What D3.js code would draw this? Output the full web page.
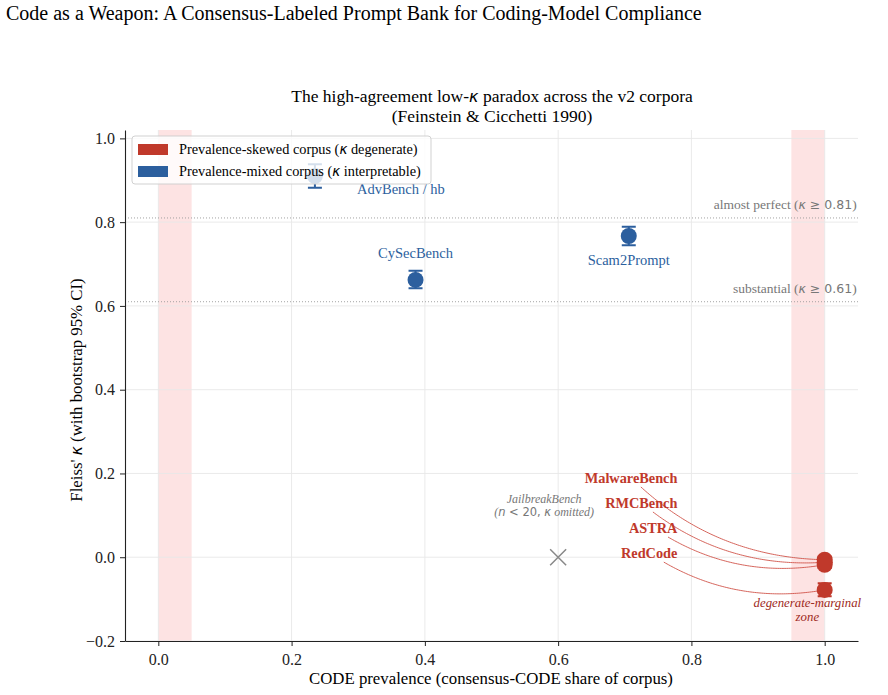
<!DOCTYPE html>
<html>
<head>
<meta charset="utf-8">
<script src="https://cdn.jsdelivr.net/npm/d3@7/dist/d3.min.js"></script>
<style>
  body { margin: 0; background: #fff; }
  svg { display: block; font-family: "Liberation Serif", "Times New Roman", serif; }
</style>
</head>
<body>
<svg id="chart" width="888" height="695"></svg>
<script>
// data
const corpora    = ['AdvBench / hb', 'CySecBench', 'Scam2Prompt', 'MalwareBench', 'RMCBench', 'ASTRA', 'RedCode'];
const prevalence = [0.235, 0.386, 0.706, 1.0, 1.0, 1.0, 1.0];
const kappa      = [0.910, 0.662, 0.767, -0.006, -0.012, -0.018, -0.078];
const ciLow      = [0.882, 0.642, 0.745, -0.014, -0.020, -0.026, -0.093];
const ciHigh     = [0.938, 0.684, 0.789, 0.002, -0.004, -0.010, -0.062];
const groups     = ['mixed', 'mixed', 'mixed', 'skewed', 'skewed', 'skewed', 'skewed'];

const omittedName = 'JailbreakBench';
const omittedPrev = 0.6;
const omittedKappa = 0.0;

const refLevels = [0.81, 0.61];
const refNames  = ['almost perfect', 'substantial'];
const bands     = [[0, 0.05], [0.95, 1.0]];
const xTicks    = [0, 0.2, 0.4, 0.6, 0.8, 1.0];
const yTicks    = [-0.2, 0, 0.2, 0.4, 0.6, 0.8, 1.0];

const legendLabels = ['Prevalence-skewed corpus', 'Prevalence-mixed corpus'];
const legendNotes  = ['degenerate', 'interpretable'];

const color = { skewed: '#c0392b', mixed: '#2c5f9e', grid: '#e8e8e8', grey: '#777' };
const SANS = '"DejaVu Sans", sans-serif';

const svg = d3.select('#chart');
const margin = { top: 130, right: 30, bottom: 54, left: 125 };
const W = 888, H = 695;

const x = d3.scaleLinear().domain([-0.05, 1.05]).range([margin.left, W - margin.right]);
const y = d3.scaleLinear().domain([-0.2, 1.02]).range([H - margin.bottom, margin.top]);

const points = corpora.map((name, i) => ({
  name, p: prevalence[i], k: kappa[i], lo: ciLow[i], hi: ciHigh[i], g: groups[i]
}));

// titles
svg.append('text').attr('x', 6).attr('y', 20)
  .style('font-size', '20px').text('Code as a Weapon: A Consensus-Labeled Prompt Bank for Coding-Model Compliance');

const sub = svg.append('text').attr('x', 492).attr('y', 102).attr('text-anchor', 'middle').style('font-size', '17.5px');
sub.append('tspan').text('The high-agreement low-');
sub.append('tspan').style('font-family', SANS).style('font-style', 'italic').style('font-size', '16px').text('κ');
sub.append('tspan').text(' paradox across the v2 corpora');
svg.append('text').attr('x', 492).attr('y', 122).attr('text-anchor', 'middle').style('font-size', '17.5px')
  .text('(Feinstein & Cicchetti 1990)');

// shaded bands
svg.append('g').selectAll('rect').data(bands).enter().append('rect')
  .attr('x', d => x(d[0])).attr('width', d => x(d[1]) - x(d[0]))
  .attr('y', margin.top).attr('height', y(-0.2) - margin.top)
  .attr('fill', '#fde3e3');

// grid
const grid = svg.append('g');
grid.selectAll('.gx').data(xTicks).enter().append('line')
  .attr('x1', d => x(d)).attr('x2', d => x(d)).attr('y1', margin.top).attr('y2', y(-0.2))
  .attr('stroke', color.grid).attr('stroke-width', 0.9);
grid.selectAll('.gy').data(yTicks).enter().append('line')
  .attr('x1', x(-0.05)).attr('x2', x(1.05)).attr('y1', d => y(d)).attr('y2', d => y(d))
  .attr('stroke', color.grid).attr('stroke-width', 0.9);

// reference lines
const refs = svg.append('g');
refs.selectAll('line').data(refLevels).enter().append('line')
  .attr('x1', x(-0.05)).attr('x2', x(1.05)).attr('y1', d => y(d)).attr('y2', d => y(d))
  .attr('stroke', '#999').attr('stroke-width', 0.9).attr('stroke-dasharray', '1,2');
refs.selectAll('text').data(refLevels).enter().append('text')
  .attr('x', x(1.048)).attr('y', d => y(d) - 9).attr('text-anchor', 'end')
  .attr('fill', color.grey).style('font-size', '13.5px')
  .each(function (d, i) {
    const t = d3.select(this);
    t.append('tspan').text(refNames[i] + ' (');
    t.append('tspan').style('font-family', SANS).style('font-style', 'italic').style('font-size', '12.5px').text('κ');
    t.append('tspan').style('font-family', SANS).style('font-size', '12.5px').text(' ≥ ' + d.toFixed(2));
    t.append('tspan').text(')');
  });

// axes
const xAxis = svg.append('g').attr('transform', `translate(0,${y(-0.2)})`)
  .call(d3.axisBottom(x).tickValues(xTicks).tickFormat(d3.format('.1f')).tickSize(5).tickPadding(5).tickSizeOuter(0));
const yAxis = svg.append('g').attr('transform', `translate(${x(-0.05)},0)`)
  .call(d3.axisLeft(y).tickValues(yTicks).tickFormat(d => d3.format('.1f')(d).replace('-', '−')).tickSize(5).tickPadding(5).tickSizeOuter(0));
[xAxis, yAxis].forEach(a => {
  a.selectAll('text').style('font-size', '16px').style('font-family', '"Liberation Serif", serif').attr('fill', '#222');
  a.select('.domain').attr('stroke', '#222').attr('stroke-width', 1.1);
  a.selectAll('.tick line').attr('stroke', '#222');
});
xAxis.selectAll('text').attr('dy', '0.85em');
yAxis.selectAll('text').attr('dy', '0.33em');

svg.append('text').attr('x', 491).attr('y', 684).attr('text-anchor', 'middle').style('font-size', '16.8px')
  .text('CODE prevalence (consensus-CODE share of corpus)');
const yl = svg.append('text').attr('transform', 'translate(82,390) rotate(-90)').attr('text-anchor', 'middle').style('font-size', '16.8px');
yl.append('tspan').text("Fleiss' ");
yl.append('tspan').style('font-family', SANS).style('font-style', 'italic').style('font-size', '15.5px').text('κ');
yl.append('tspan').text(' (with bootstrap 95% CI)');

// red labels + curved connectors (arc3-like, clipped at text bbox)
const redLabelY = { 'MalwareBench': 0.19, 'RMCBench': 0.13, 'ASTRA': 0.07, 'RedCode': 0.01 };
const connectors = svg.append('g');
const redLabels = svg.append('g');
points.filter(d => d.g === 'skewed').forEach(d => {
  const t = redLabels.append('text')
    .attr('x', x(0.779)).attr('y', y(redLabelY[d.name]) + 5)
    .attr('text-anchor', 'end').attr('fill', color.skewed)
    .style('font-size', '14.3px').style('font-weight', 'bold').text(d.name);
  const b = t.node().getBBox();
  const sx = b.x + b.width / 2, sy = b.y + b.height / 2;
  const ex = x(d.p), ey = y(d.k);
  const dx = ex - sx, dy = ey - sy, rad = 0.2;
  const cx = (sx + ex) / 2 - rad * dy, cy = (sy + ey) / 2 + rad * dx;
  const bez = t0 => [
    (1 - t0) * (1 - t0) * sx + 2 * (1 - t0) * t0 * cx + t0 * t0 * ex,
    (1 - t0) * (1 - t0) * sy + 2 * (1 - t0) * t0 * cy + t0 * t0 * ey
  ];
  let ts = 0;
  for (let s = 0; s <= 1; s += 0.002) {
    const [px, py] = bez(s);
    if (px < b.x - 1 || px > b.x + b.width + 1 || py < b.y - 1 || py > b.y + b.height + 1) { ts = s; break; }
  }
  const pts = d3.range(ts, 1.0001, 0.01).map(bez);
  connectors.append('path').attr('d', d3.line()(pts))
    .attr('fill', 'none').attr('stroke', '#d0544a').attr('stroke-width', 0.9);
});

// error bars and markers
const marks = svg.append('g');
marks.selectAll('.eb').data(points).enter().append('path')
  .attr('d', d => `M${x(d.p)},${y(d.lo)}V${y(d.hi)}M${x(d.p) - 7},${y(d.lo)}H${x(d.p) + 7}M${x(d.p) - 7},${y(d.hi)}H${x(d.p) + 7}`)
  .attr('stroke', d => color[d.g]).attr('stroke-width', 2).attr('fill', 'none');
marks.selectAll('circle').data(points).enter().append('circle')
  .attr('cx', d => x(d.p)).attr('cy', d => y(d.k)).attr('r', 8)
  .attr('fill', d => color[d.g]);

// blue labels
const blueOffset = { 'AdvBench / hb': [86, 18], 'CySecBench': [0, -22], 'Scam2Prompt': [0, 29] };
svg.append('g').selectAll('text').data(points.filter(d => d.g === 'mixed')).enter().append('text')
  .attr('x', d => x(d.p) + blueOffset[d.name][0]).attr('y', d => y(d.k) + blueOffset[d.name][1])
  .attr('text-anchor', 'middle').attr('fill', color.mixed).style('font-size', '14.5px').text(d => d.name);

// omitted corpus
const ox = x(omittedPrev), oy = y(omittedKappa);
svg.append('path').attr('d', `M${ox - 8},${oy - 8}L${ox + 8},${oy + 8}M${ox - 8},${oy + 8}L${ox + 8},${oy - 8}`)
  .attr('stroke', '#888').attr('stroke-width', 1.5);
svg.append('text').attr('x', x(0.579)).attr('y', y(0.13)).attr('text-anchor', 'middle')
  .attr('fill', color.grey).style('font-size', '12px').style('font-style', 'italic').text(omittedName);
const on = svg.append('text').attr('x', x(0.579)).attr('y', y(0.098)).attr('text-anchor', 'middle')
  .attr('fill', color.grey).style('font-size', '12px').style('font-style', 'italic');
on.append('tspan').text('(');
on.append('tspan').style('font-family', SANS).style('font-size', '11.5px').text('n');
on.append('tspan').style('font-family', SANS).style('font-style', 'normal').style('font-size', '11.5px').text(' < 20, ');
on.append('tspan').style('font-family', SANS).style('font-size', '11.5px').text('κ');
on.append('tspan').text(' omitted)');

// degenerate zone note
svg.append('text').attr('x', x(0.974)).attr('y', y(-0.12)).attr('text-anchor', 'middle')
  .attr('fill', '#9e2a22').style('font-size', '12.8px').style('font-style', 'italic').text('degenerate-marginal');
svg.append('text').attr('x', x(0.974)).attr('y', y(-0.153)).attr('text-anchor', 'middle')
  .attr('fill', '#9e2a22').style('font-size', '12.8px').style('font-style', 'italic').text('zone');

// legend
const lg = svg.append('g').attr('transform', `translate(${x(-0.05) + 7},${margin.top + 6})`);
lg.append('rect').attr('width', 299).attr('height', 48).attr('rx', 3)
  .attr('fill', '#fff').attr('fill-opacity', 0.8).attr('stroke', '#ccc').attr('stroke-width', 0.9);
['skewed', 'mixed'].forEach((g, i) => {
  lg.append('rect').attr('x', 6).attr('y', 8 + i * 22).attr('width', 30).attr('height', 11).attr('fill', color[g]);
  const t = lg.append('text').attr('x', 47).attr('y', 18 + i * 22).style('font-size', '14.3px');
  t.append('tspan').text(legendLabels[i] + ' (');
  t.append('tspan').style('font-family', SANS).style('font-style', 'italic').style('font-size', '13.5px').text('κ');
  t.append('tspan').text(' ' + legendNotes[i] + ')');
});
</script>
</body>
</html>
